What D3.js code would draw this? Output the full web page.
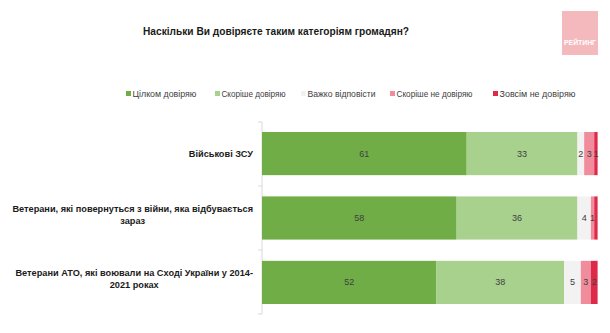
<!DOCTYPE html>
<html>
<head>
<meta charset="utf-8">
<script src="https://cdn.jsdelivr.net/npm/d3@7/dist/d3.min.js"></script>
<style>
  html, body { margin: 0; padding: 0; background: #fff; }
  svg text { font-family: "Liberation Sans", Arial, sans-serif; }
</style>
</head>
<body>
<svg id="chart" width="610" height="333"></svg>
<script>
// Survey: trust towards categories of citizens (%)
const title = "Наскільки Ви довіряєте таким категоріям громадян?";
const categories = [
  "Військові ЗСУ",
  "Ветерани, які повернуться з війни, яка відбувається|зараз",
  "Ветерани АТО, які воювали на Сході України у 2014-|2021 роках"
];
const seriesNames = ["Цілком довіряю", "Скоріше довіряю", "Важко відповісти", "Скоріше не довіряю", "Зовсім не довіряю"];
const seriesColors = ["#70ad47", "#a9d18e", "#f2f2f2", "#f08c9c", "#dc2a48"];
const fullyTrust    = [61, 58, 52];
const ratherTrust   = [33, 36, 38];
const hardToSay     = [2, 4, 5];
const ratherDistrust = [3, 1, 3];
const fullyDistrust = [1, 1, 2];
const xDomain = [0, 100];

const series = [fullyTrust, ratherTrust, hardToSay, ratherDistrust, fullyDistrust];

const svg = d3.select("#chart");

// Title
svg.append("text")
  .attr("x", 276).attr("y", 35)
  .attr("text-anchor", "middle")
  .attr("font-size", 11.5).attr("font-weight", "bold")
  .attr("fill", "#1a1a1a")
  .attr("textLength", 266).attr("lengthAdjust", "spacingAndGlyphs")
  .text(title);

// Logo block
const logo = svg.append("g");
logo.append("rect").attr("x", 562).attr("y", 11).attr("width", 36).attr("height", 44).attr("fill", "#f4b9bc");
logo.append("text").attr("x", 580).attr("y", 45).attr("text-anchor", "middle")
  .attr("font-size", 6.5).attr("font-weight", "bold").attr("fill", "#fff")
  .attr("textLength", 32).attr("lengthAdjust", "spacingAndGlyphs")
  .text("РЕЙТИНГ");

// Legend
const legendX = [126, 215, 301, 390, 493];
const legendW = [64, 64, 68, 76, 76];
const legend = svg.append("g");
seriesNames.forEach((name, i) => {
  legend.append("rect").attr("x", legendX[i]).attr("y", 91).attr("width", 5).attr("height", 5)
    .attr("fill", seriesColors[i]);
  legend.append("text").attr("x", legendX[i] + 6.5).attr("y", 96.5)
    .attr("font-size", 8.5).attr("fill", "#404040")
    .attr("textLength", legendW[i]).attr("lengthAdjust", "spacingAndGlyphs")
    .text(name);
});

// Scales
const x = d3.scaleLinear().domain(xDomain).range([262, 597.6]);
const y = d3.scaleBand().domain(d3.range(categories.length)).range([122, 314]).paddingInner(0.33).paddingOuter(0.155);
const yOuter = d3.scaleBand().domain(d3.range(categories.length)).range([122, 314]);

// Vertical category axis
const axis = svg.append("g");
axis.append("line").attr("x1", 262).attr("x2", 262).attr("y1", 122).attr("y2", 314)
  .attr("stroke", "#d9d9d9").attr("stroke-width", 1);
d3.range(categories.length + 1).forEach(i => {
  const yy = i < categories.length ? yOuter(i) : 314;
  axis.append("line").attr("x1", 258).attr("x2", 262).attr("y1", yy).attr("y2", yy)
    .attr("stroke", "#d9d9d9");
});

// Stacked bars
categories.forEach((cat, ci) => {
  let acc = 0;
  let lastLabelRight = -Infinity;
  series.forEach((vals, si) => {
    const v = vals[ci];
    const x0 = x(acc), x1 = x(acc + v);
    svg.append("rect")
      .attr("x", x0).attr("y", y(ci))
      .attr("width", x1 - x0).attr("height", y.bandwidth())
      .attr("fill", seriesColors[si]);
    const cx = (x0 + x1) / 2;
    // skip a label that would collide with the previous one
    if (cx - 2.5 > lastLabelRight) {
      svg.append("text")
        .attr("x", cx).attr("y", y(ci) + y.bandwidth() / 2 + 3)
        .attr("text-anchor", "middle").attr("font-size", 9)
        .attr("fill", "#404040")
        .text(v);
      lastLabelRight = cx + 2.5;
    }
    acc += v;
  });

  // Category label: block right-aligned, lines centred inside it
  const lines = cat.split("|");
  const g = svg.append("g");
  const texts = lines.map(l => g.append("text").attr("font-size", 9.2).attr("font-weight", "bold")
    .attr("fill", "#1a1a1a").attr("text-anchor", "middle").text(l));
  const widths = texts.map(t => t.node().getComputedTextLength());
  const maxW = d3.max(widths);
  const cxLab = 253 - maxW / 2;
  const mid = y(ci) + y.bandwidth() / 2;
  const lh = 12;
  texts.forEach((t, li) => {
    t.attr("x", cxLab).attr("y", mid + 3.5 + (li - (lines.length - 1) / 2) * lh - (lines.length > 1 ? 4 : 0));
  });
});
</script>
</body>
</html>
